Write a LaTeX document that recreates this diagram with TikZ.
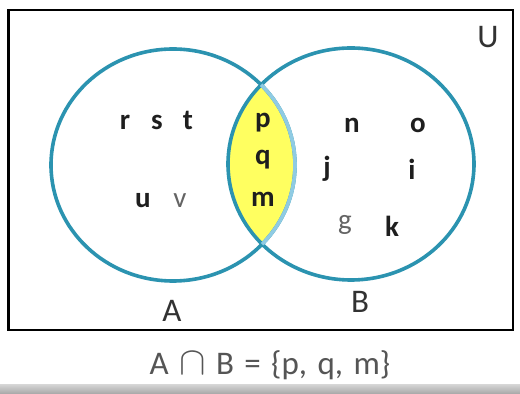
\documentclass[tikz,border=0pt]{standalone}
\usepackage{graphicx}
\usepackage{fontspec}
\setmainfont{Carlito}
\definecolor{circcol}{RGB}{43,147,176}
\definecolor{arccol}{RGB}{143,203,227}
\definecolor{lenscol}{RGB}{255,255,96}
\definecolor{elemcol}{RGB}{30,30,30}
\definecolor{lightelem}{RGB}{100,100,100}
\definecolor{labcol}{RGB}{50,50,50}
\definecolor{capcol}{RGB}{85,85,85}
\newcommand{\capspace}{\hspace{5.2pt}}
\newcommand{\tallcap}{\scalebox{1.15}[1.15]{$\cap$}}
\tikzset{
  circ/.style={draw=circcol, line width=1.8pt},
  elem/.style={font=\fontsize{14.5}{14.5}\selectfont\bfseries, text=elemcol, anchor=base, inner sep=0pt},
  elemlight/.style={font=\fontsize{14.5}{14.5}\selectfont, text=lightelem, anchor=base, inner sep=0pt},
  setlabel/.style={font=\fontsize{16.5}{16.5}\selectfont, text=labcol, anchor=base, inner sep=0pt},
  caption/.style={font=\fontsize{16.5}{16.5}\selectfont, text=capcol, anchor=base, inner sep=0pt},
}
\begin{document}
\begin{tikzpicture}[x=0.5pt,y=-0.5pt]
\useasboundingbox (0,0) rectangle (520,394);
\fill[white] (0,0) rectangle (520,394);
% bottom shadow bar
\shade[top color=gray!35, bottom color=gray!70] (0,385) rectangle (520,394);
% universe box
\draw[line width=1.1pt] (8.5,10) rectangle (513,330);
% lens fill
\begin{scope}
  \clip (173,165) ellipse [x radius=61pt, y radius=58pt];
  \fill[lenscol] (351,164) ellipse [x radius=61.5pt, y radius=58pt];
\end{scope}
% circles
\draw[circ] (173,165) ellipse [x radius=61pt, y radius=58pt];
\draw[circ] (351,164) ellipse [x radius=61.5pt, y radius=58pt];
\begin{scope}
  \clip (351,164) ellipse [x radius=61.5pt, y radius=58pt];
  \draw[circ, draw=arccol] (173,165) ellipse [x radius=61pt, y radius=58pt];
\end{scope}
% elements of A only
\node[elem] (r) at (125,130) {r};
\node[elem] (s) at (157,130) {s};
\node[elem] (t) at (188,130) {t};
\node[elem] (u) at (143,208) {u};
\node[elemlight] (v) at (180,208) {v};
% intersection
\node[elem] (p) at (263,128) {p};
\node[elem] (q) at (263,165) {q};
\node[elem] (m) at (263,207) {m};
% elements of B only
\node[elem] (n) at (352,133) {n};
\node[elem] (o) at (418,133) {o};
\node[elem] (j) at (327,177) {j};
\node[elem] (i) at (412,180) {i};
\node[elemlight] (g) at (345,230) {g};
\node[elem] (k) at (392,237) {k};
% labels
\node[setlabel] (la) at (172,322) {A};
\node[setlabel] (lb) at (360,313) {B};
\node[setlabel] (lu) at (488,48) {U};
% caption
\node[caption] (cap) at (270,375) {A\capspace\tallcap\capspace B\capspace=\capspace\{p,\capspace q,\capspace m\}};
\end{tikzpicture}
\end{document}
